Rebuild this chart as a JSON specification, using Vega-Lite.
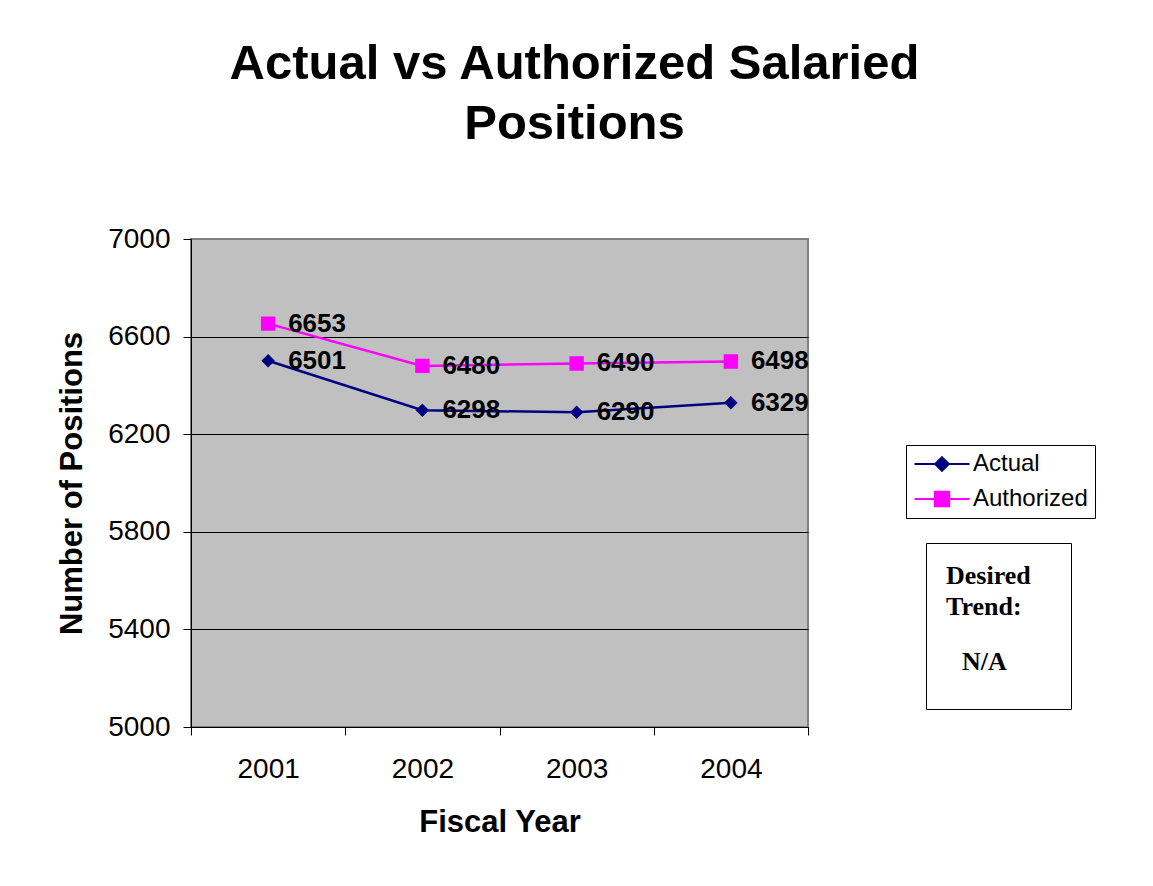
{
  "$schema": "https://vega.github.io/schema/vega-lite/v6.json",
  "autosize": {"type": "none"},
  "padding": {"left": 191, "top": 239, "right": 345, "bottom": 159},
  "width": 617,
  "height": 488,
  "background": "white",
  "view": {"fill": "#C0C0C0", "stroke": "#808080", "strokeWidth": 2},
  "title": {
    "text": ["Actual vs Authorized Salaried", "Positions"],
    "font": "Liberation Sans",
    "fontSize": 49,
    "fontWeight": "bold",
    "lineHeight": 60,
    "anchor": "middle",
    "dx": 75,
    "offset": 76,
    "color": "black"
  },
  "data": {
    "values": [
      {"year": 2001, "series": "Actual", "value": 6501},
      {"year": 2002, "series": "Actual", "value": 6298},
      {"year": 2003, "series": "Actual", "value": 6290},
      {"year": 2004, "series": "Actual", "value": 6329},
      {"year": 2001, "series": "Authorized", "value": 6653},
      {"year": 2002, "series": "Authorized", "value": 6480},
      {"year": 2003, "series": "Authorized", "value": 6490},
      {"year": 2004, "series": "Authorized", "value": 6498}
    ]
  },
  "layer": [
    {
      "mark": {"type": "line", "strokeWidth": 2.5},
      "encoding": {
        "x": {
          "field": "year", "type": "ordinal", "bandPosition": 0.5,
          "scale": {"type": "band", "paddingInner": 0, "paddingOuter": 0},
          "axis": {
            "labelAngle": 0, "tickBand": "extent",
            "ticks": true, "tickSize": 8, "tickColor": "black",
            "domain": true, "domainColor": "black", "grid": false,
            "labelFontSize": 28, "labelColor": "black", "labelPadding": 20,
            "title": "Fiscal Year", "titleFontSize": 31, "titleFontWeight": "bold",
            "titleColor": "black", "titlePadding": 24
          }
        },
        "y": {
          "field": "value", "type": "quantitative",
          "scale": {"domain": [5000, 7000], "nice": false, "zero": false},
          "axis": {
            "values": [5000, 5400, 5800, 6200, 6600, 7000], "format": "d",
            "tickSize": 8, "tickColor": "black", "domainColor": "black",
            "labelFontSize": 28, "labelColor": "black", "labelPadding": 13,
            "grid": true,
            "gridColor": {"condition": {"test": "datum.value === 7000", "value": "#808080"}, "value": "black"},
            "title": "Number of Positions", "titleFontSize": 31, "titleFontWeight": "bold",
            "titleColor": "black", "titlePadding": 19
          }
        },
        "color": {
          "field": "series", "type": "nominal",
          "scale": {"domain": ["Actual", "Authorized"], "range": ["#000080", "#FF00FF"]},
          "legend": {
            "title": null, "orient": "none", "legendX": 715, "legendY": 206,
            "strokeColor": "black", "fillColor": "white", "padding": 7,
            "labelFontSize": 24, "labelColor": "black", "labelOffset": 19,
            "symbolSize": 400, "symbolOffset": 17, "rowPadding": 11,
            "symbolFillColor": {"expr": "datum.value === 'Actual' ? '#000080' : '#FF00FF'"},
            "symbolStrokeColor": {"expr": "datum.value === 'Actual' ? '#000080' : '#FF00FF'"},
            "symbolStrokeWidth": 2,
            "symbolOpacity": 1
          }
        }
      }
    },
    {
      "mark": {"type": "point", "filled": true, "size": 400, "opacity": 1},
      "encoding": {
        "x": {"field": "year", "type": "ordinal", "bandPosition": 0.5},
        "y": {"field": "value", "type": "quantitative"},
        "color": {"field": "series", "type": "nominal", "legend": null},
        "shape": {
          "field": "series", "type": "nominal", "legend": null,
          "scale": {
            "domain": ["Actual", "Authorized"],
            "range": [
              "M -2.75 0 L 2.75 0 M 0 -0.68 L 0.68 0 L 0 0.68 L -0.68 0 Z",
              "M -2.75 0 L 2.75 0 M -0.72 -0.72 L 0.72 -0.72 L 0.72 0.72 L -0.72 0.72 Z"
            ]
          }
        }
      }
    },
    {
      "mark": {"type": "text", "align": "left", "baseline": "middle", "dx": 20, "fontSize": 26, "fontWeight": "bold", "color": "black"},
      "encoding": {
        "x": {"field": "year", "type": "ordinal", "bandPosition": 0.5},
        "y": {"field": "value", "type": "quantitative"},
        "text": {"field": "value", "type": "quantitative", "format": "d"}
      }
    },
    {
      "data": {"values": [{"trend": "N/A"}]},
      "mark": {"type": "point", "opacity": 0},
      "encoding": {
        "strokeDash": {
          "field": "trend", "type": "nominal",
          "legend": {
            "title": ["Desired", "Trend:"], "orient": "none", "legendX": 735, "legendY": 304,
            "padding": 20, "strokeColor": "black", "fillColor": "white",
            "titleFont": "Liberation Serif", "titleFontSize": 26, "titleFontWeight": "bold",
            "titleLineHeight": 31, "titleColor": "black", "titlePadding": 14,
            "labelFont": "Liberation Serif", "labelFontSize": 26, "labelFontWeight": "bold",
            "labelColor": "black", "labelOffset": -90,
            "symbolOpacity": 0, "symbolSize": 2916, "symbolType": "square", "symbolOffset": 50
          }
        }
      }
    }
  ],
  "config": {
    "font": "Liberation Sans"
  }
}
